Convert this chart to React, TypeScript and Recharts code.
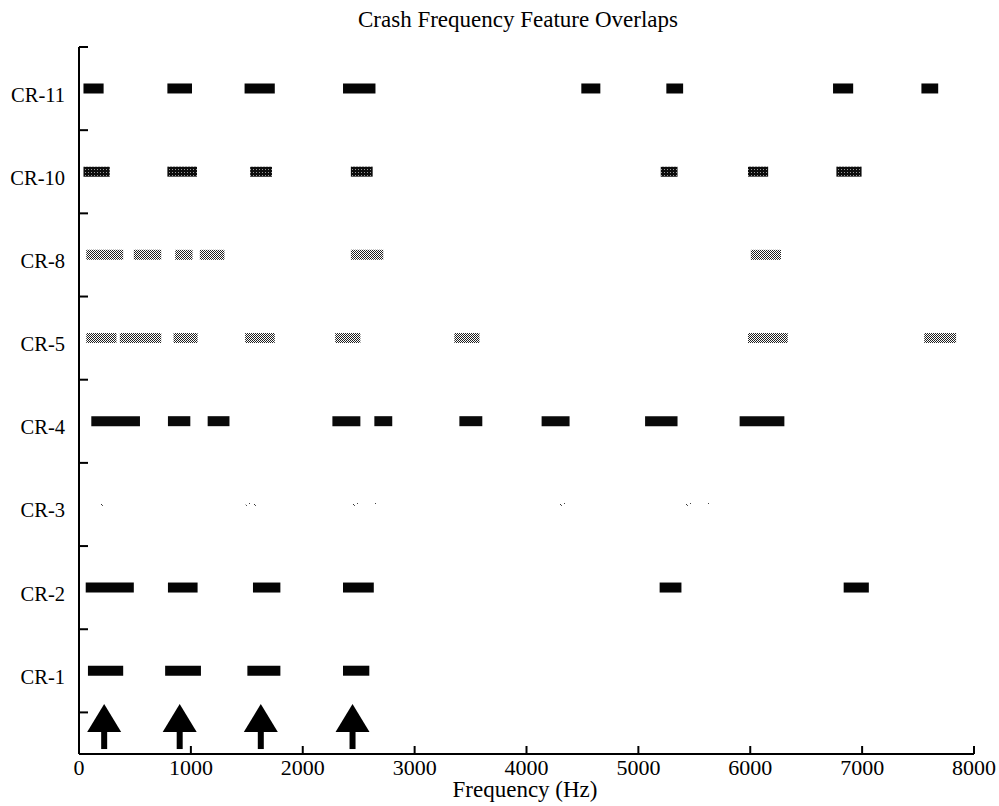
import { ComposedChart, Bar, Scatter, XAxis, YAxis, Cell } from 'recharts'

// Rows from bottom to top; the row index on the numeric y axis is position + 1
const rowLabels = ['CR-1', 'CR-2', 'CR-3', 'CR-4', 'CR-5', 'CR-8', 'CR-10', 'CR-11']

// Frequency bands (Hz) where each crash record shows a feature
const cr1 = [[80, 395], [770, 1090], [1505, 1800], [2360, 2595]]
const cr2 = [[60, 490], [795, 1060], [1555, 1800], [2360, 2635], [5190, 5385], [6835, 7060]]
const cr3 = [[190, 215], [1490, 1590], [2430, 2510], [2645, 2665], [4280, 4365], [5415, 5505], [5610, 5640]]
const cr4 = [[110, 545], [795, 995], [1150, 1345], [2265, 2515], [2640, 2800], [3400, 3605], [4135, 4385], [5060, 5350], [5905, 6305]]
const cr5 = [[65, 335], [365, 735], [845, 1060], [1485, 1750], [2290, 2515], [3355, 3580], [5980, 6335], [7555, 7840]]
const cr8 = [[65, 395], [490, 735], [860, 1015], [1080, 1300], [2430, 2720], [6005, 6275]]
const cr10 = [[40, 275], [790, 1055], [1530, 1725], [2430, 2625], [5200, 5350], [5980, 6160], [6770, 6995]]
const cr11 = [[40, 220], [790, 1010], [1480, 1750], [2360, 2650], [4490, 4660], [5250, 5400], [6740, 6920], [7530, 7680]]

// Frequencies shared by most records
const overlapFreqs = [225, 900, 1625, 2445]
const overlapRow = 0.3

const freqTicks = [0, 1000, 2000, 3000, 4000, 5000, 6000, 7000, 8000]
const rowTicks = [0.5, 1, 1.5, 2, 2.5, 3, 3.5, 4, 4.5, 5, 5.5, 6, 6.5, 7, 7.5, 8, 8.5]

const rowFill: Record<string, string> = {
  'CR-1': '#050505',
  'CR-2': '#050505',
  'CR-3': 'url(#specks)',
  'CR-4': '#0a0a0a',
  'CR-5': 'url(#halftone)',
  'CR-8': 'url(#halftone)',
  'CR-10': 'url(#darktone)',
  'CR-11': '#050505',
}

const allRows = [cr1, cr2, cr3, cr4, cr5, cr8, cr10, cr11]
const segments = allRows.flatMap((segs, i) =>
  segs.map(([lo, hi]) => ({ row: i + 1, label: rowLabels[i], range: [lo, hi] }))
)
const arrows = overlapFreqs.map((f) => ({ freq: f, row: overlapRow }))

const FONT = '"Liberation Serif", "Times New Roman", serif'

function RowTick(props: any) {
  const { x, y, payload } = props
  const v = payload.value
  if (Number.isInteger(v)) {
    return (
      <text x={x - 14} y={y + 13} textAnchor="end" fontFamily={FONT} fontSize={20.5} fill="#000">
        {rowLabels[v - 1]}
      </text>
    )
  }
  return <line x1={x} x2={x + 9} y1={y} y2={y} stroke="#000" strokeWidth={2} />
}

function FreqTick(props: any) {
  const { x, y, payload } = props
  return (
    <g>
      <line x1={x} x2={x} y1={y} y2={y - 8} stroke="#000" strokeWidth={2} />
      <text x={x} y={y + 21} textAnchor="middle" fontFamily={FONT} fontSize={22} fill="#000">
        {payload.value}
      </text>
    </g>
  )
}

function Arrow(props: any) {
  const { cx, cy } = props
  return (
    <g fill="#000">
      <polygon points={`${cx},${cy - 25} ${cx - 17},${cy + 3} ${cx + 17},${cy + 3}`} />
      <rect x={cx - 3} y={cy + 2} width={6} height={18} />
    </g>
  )
}

export default function App() {
  return (
    <div style={{ width: 999, height: 806, background: '#fff' }}>
      <style>{'body { margin: 0; } .recharts-surface { overflow: visible; }'}</style>
      <ComposedChart
        width={999}
        height={806}
        layout="vertical"
        data={segments}
        margin={{ top: 47, right: 25, bottom: 51, left: 78 }}
      >
        <defs>
          <pattern id="halftone" width="2" height="2" patternUnits="userSpaceOnUse">
            <rect width="2" height="2" fill="#fff" />
            <rect x="0" y="0" width="1" height="1" fill="#222" />
            <rect x="1" y="1" width="1" height="1" fill="#222" />
          </pattern>
          <pattern id="darktone" width="3" height="3" patternUnits="userSpaceOnUse">
            <rect width="3" height="3" fill="#0d0d0d" />
            <rect x="1" y="1" width="1" height="1" fill="#999" />
          </pattern>
          <pattern id="specks" width="9" height="10" patternUnits="userSpaceOnUse">
            <rect x="2" y="4" width="1" height="1" fill="#333" />
            <rect x="3" y="5" width="1" height="1" fill="#555" />
            <rect x="6" y="3" width="1" height="1" fill="#444" />
          </pattern>
        </defs>
        <text x={518} y={27} textAnchor="middle" fontFamily={FONT} fontSize={23} fill="#000">
          Crash Frequency Feature Overlaps
        </text>
        <text x={525} y={797} textAnchor="middle" fontFamily={FONT} fontSize={23} fill="#000">
          Frequency (Hz)
        </text>
        <XAxis
          type="number"
          domain={[0, 8000]}
          ticks={freqTicks}
          interval={0}
          height={1}
          tickSize={0}
          tickMargin={0}
          tick={<FreqTick />}
          tickLine={false}
          axisLine={{ stroke: '#000', strokeWidth: 2 }}
          allowDataOverflow
        />
        <YAxis
          type="number"
          dataKey="row"
          domain={[0, 8.5]}
          ticks={rowTicks}
          interval={0}
          width={1}
          reversed
          tickSize={0}
          tickMargin={0}
          tick={<RowTick />}
          tickLine={false}
          axisLine={{ stroke: '#000', strokeWidth: 2 }}
          allowDataOverflow
        />
        <Bar dataKey="range" barSize={10} isAnimationActive={false}>
          {segments.map((d, i) => (
            <Cell key={i} fill={rowFill[d.label]} />
          ))}
        </Bar>
        <Scatter data={arrows} dataKey="freq" shape={<Arrow />} isAnimationActive={false} />
      </ComposedChart>
    </div>
  )
}
